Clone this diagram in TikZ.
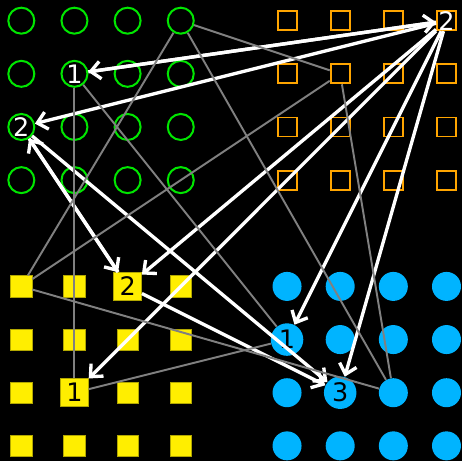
\documentclass[tikz,border=0pt]{standalone}
\usepackage{fontspec}
\setmainfont{DejaVu Sans}
\usepackage{tikz}
\usepackage{xcolor}
\usetikzlibrary{arrows.meta}
\definecolor{nodegreen}{RGB}{0,230,0}
\definecolor{nodeorange}{RGB}{255,165,0}
\definecolor{nodeyellow}{RGB}{255,238,0}
\definecolor{nodeblue}{RGB}{0,180,255}
\definecolor{linkgray}{RGB}{128,128,128}
\tikzstyle{greennode} = [circle, 
draw=nodegreen, 
line width=1.15pt, 
minimum size=0.52cm, 
inner sep=0pt, 
text=white, 
font=\fontsize{14.5}{16}\selectfont]
\tikzstyle{orangenode} = [rectangle, 
draw=nodeorange, 
line width=1.1pt, 
minimum size=0.38cm, 
inner sep=0pt, 
text=white, 
font=\fontsize{14.5}{16}\selectfont]
\tikzstyle{yellownode} = [rectangle, 
fill=nodeyellow, 
draw=nodeyellow!70!black, 
line width=0.3pt, 
minimum size=0.43cm, 
inner sep=0pt, 
text=black, 
font=\fontsize{14.5}{16}\selectfont]
\tikzstyle{bluenode} = [circle, 
fill=nodeblue, 
minimum size=0.58cm, 
inner sep=0pt, 
text=black, 
font=\fontsize{14.5}{16}\selectfont]
\tikzstyle{arrow} = [white, line width=1.9pt, -{Straight Barb[length=5.5pt,width=10pt]}]
\tikzstyle{link} = [linkgray, line width=1.1pt]

\begin{document}
\begin{tikzpicture}[x=1.063cm, y=-1.063cm]

        % --- Fondo ---
        \fill [black] (-0.401,-0.389) rectangle (8.292,8.284);

        % --- Cuadrículas sin etiqueta ---
        \foreach \c/\r in {0/0,1/0,2/0,3/0, 0/1,2/1,3/1, 1/2,2/2,3/2, 0/3,1/3,2/3,3/3}
            \node (g\c\r) [greennode] at (\c,\r) {};
        \foreach \c/\r in {0/0,1/0,2/0, 0/1,1/1,2/1,3/1, 0/2,1/2,2/2,3/2, 0/3,1/3,2/3,3/3}
            \node (o\c\r) [orangenode] at (\c+5,\r) {};
        \foreach \c/\r in {0/0,1/0,3/0, 0/1,1/1,2/1,3/1, 0/2,2/2,3/2, 0/3,1/3,2/3,3/3}
            \node (y\c\r) [yellownode] at (\c,\r+5) {};
        \foreach \c/\r in {0/0,1/0,2/0,3/0, 1/1,2/1,3/1, 0/2,2/2,3/2, 0/3,1/3,2/3,3/3}
            \node (b\c\r) [bluenode] at (\c+5,\r+5) {};

        % --- Nodos etiquetados ---
        \node (g11) [greennode] at (1,1) {1};
        \node (g02) [greennode] at (0,2) {2};
        \node (o30) [orangenode] at (8,0) {2};
        \node (y20) [yellownode, minimum size=0.56cm] at (2,5) {2};
        \node (y12) [yellownode, minimum size=0.56cm] at (1,7) {1};
        \node (b01) [bluenode, minimum size=0.65cm] at (5,6) {1};
        \node (b12) [bluenode, minimum size=0.65cm] at (6,7) {3};

        % --- Flechas ---
        \draw [arrow] (o30) -- (g11);
        \draw [arrow] (g11) -- (o30);
        \draw [arrow] (o30) -- (g02);
        \draw [arrow] (o30) -- (y20);
        \draw [arrow] (o30) -- (y12);
        \draw [arrow] (o30) -- (b01);
        \draw [arrow] (o30) -- (b12);
        \draw [arrow] (g02) -- (y20);
        \draw [arrow] (y20) -- (g02);
        \draw [arrow] (g02) -- (b12);
        \draw [arrow] (y20) -- (b12);

        % --- Conexiones grises ---
        \draw [link] (g30) -- (o11);
        \draw [link] (g30) -- (y00);
        \draw [link] (g30) -- (b22);
        \draw [link] (o11) -- (y00);
        \draw [link] (o11) -- (b22);
        \draw [link] (y00) -- (b22);
        % Triángulo de los nodos 1
        \draw [link] (g11) -- (y12);
        \draw [link] (g11) -- (b01);
        \draw [link] (y12) -- (b01);

\end{tikzpicture}
\end{document}
